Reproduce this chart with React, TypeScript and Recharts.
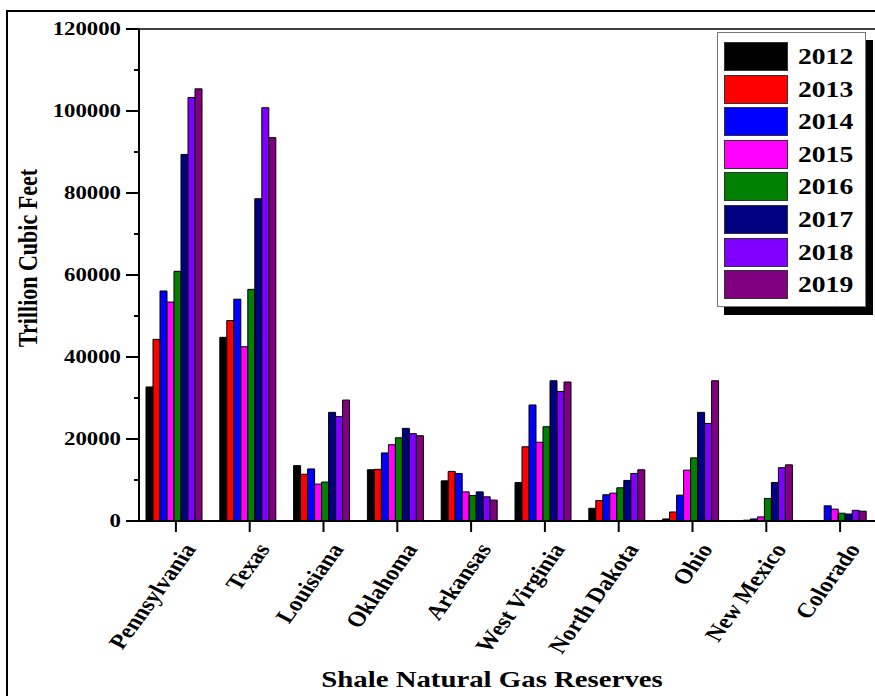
import { BarChart, Bar, XAxis, YAxis, ReferenceLine } from 'recharts';

const states = [
  'Pennsylvania',
  'Texas',
  'Louisiana',
  'Oklahoma',
  'Arkansas',
  'West Virginia',
  'North Dakota',
  'Ohio',
  'New Mexico',
  'Colorado',
];

const years = ['2012', '2013', '2014', '2015', '2016', '2017', '2018', '2019'];
const colors = ['#000000', '#ff0000', '#0000ff', '#ff00ff', '#008000', '#000080', '#8000ff', '#800080'];

const y2012 = [32700, 44800, 13500, 12500, 9800, 9400, 3100, 500, 100, 100];
const y2013 = [44300, 48900, 11400, 12600, 12100, 18100, 5000, 2200, 200, 100];
const y2014 = [56100, 54100, 12700, 16600, 11600, 28300, 6400, 6300, 500, 3700];
const y2015 = [53400, 42500, 9000, 18600, 7100, 19200, 6800, 12400, 1000, 2900];
const y2016 = [60900, 56500, 9500, 20300, 6200, 23000, 8100, 15400, 5500, 1900];
const y2017 = [89400, 78600, 26500, 22600, 7100, 34200, 9900, 26500, 9400, 1700];
const y2018 = [103300, 100800, 25500, 21300, 5900, 31600, 11600, 23800, 13000, 2600];
const y2019 = [105400, 93500, 29500, 20800, 5100, 33900, 12500, 34200, 13700, 2400];

const yTicks = [0, 10000, 20000, 30000, 40000, 50000, 60000, 70000, 80000, 90000, 100000, 110000, 120000];

const seriesValues = [y2012, y2013, y2014, y2015, y2016, y2017, y2018, y2019];

const data = states.map((state, i) => {
  const row: Record<string, string | number> = { state };
  years.forEach((yr, k) => {
    row[yr] = seriesValues[k][i];
  });
  return row;
});

const FONT = '"Liberation Serif", "Times New Roman", serif';

function YTick(props: any) {
  const { x, y, payload } = props;
  const major = payload.value % 20000 === 0;
  return (
    <g transform={`translate(${x},${y})`}>
      <line x1={major ? -13 : -5} x2={0} y1={0} y2={0} stroke="#000" strokeWidth={2} />
      {major && (
        <text
          transform="translate(-18,0) scale(1.2,1)"
          textAnchor="end"
          dominantBaseline="central"
          fontSize={19}
          fontWeight="bold"
          fontFamily={FONT}
          fill="#000"
        >
          {payload.value}
        </text>
      )}
    </g>
  );
}

function XTick(props: any) {
  const { x, y, payload } = props;
  return (
    <g transform={`translate(${x + 21},${y + 17}) scale(1.2,1) rotate(-58.5)`}>
      <text textAnchor="end" fontSize={21} fontWeight="bold" fontFamily={FONT} fill="#000">
        {payload.value}
      </text>
    </g>
  );
}

function LegendBox() {
  return (
    <div
      style={{
        position: 'absolute',
        left: 717,
        top: 32,
        width: 149,
        height: 275,
        boxSizing: 'border-box',
        border: '1px solid #777',
        background: '#fff',
        boxShadow: '7px 8px 0 #000',
        padding: '9px 0 0 6px',
      }}
    >
      {years.map((yr, k) => (
        <div key={yr} style={{ display: 'flex', alignItems: 'center', height: 29, marginBottom: 3.6 }}>
          <div
            style={{
              width: 64,
              height: 29,
              boxSizing: 'border-box',
              border: '1px solid #333',
              background: colors[k],
            }}
          />
          <div
            style={{
              marginLeft: 10,
              fontFamily: FONT,
              fontWeight: 'bold',
              fontSize: 23,
              lineHeight: 1,
              transform: 'scaleX(1.2)',
              transformOrigin: 'left center',
            }}
          >
            {yr}
          </div>
        </div>
      ))}
    </div>
  );
}

export default function App() {
  return (
    <div
      style={{
        position: 'fixed',
        left: 0,
        top: 0,
        width: 875,
        height: 696,
        overflow: 'hidden',
        background: '#fff',
      }}
    >
      <div
        style={{
          position: 'absolute',
          left: 6,
          top: 10,
          width: 900,
          height: 800,
          borderLeft: '2px solid #000',
          borderTop: '2px solid #000',
        }}
      />
      <div style={{ position: 'absolute', left: 0, top: 0 }}>
        <BarChart
          width={900}
          height={696}
          data={data}
          margin={{ top: 29, right: 23, bottom: 0, left: 0 }}
          barCategoryGap={7}
          barGap={0}
        >
          <XAxis
            dataKey="state"
            height={175}
            interval={0}
            tickSize={11}
            tickMargin={0}
            axisLine={{ stroke: '#000', strokeWidth: 2 }}
            tickLine={{ stroke: '#000', strokeWidth: 2 }}
            tick={<XTick />}
          />
          <YAxis
            width={139}
            domain={[0, 120000]}
            ticks={yTicks}
            interval={0}
            tickSize={0}
            tickMargin={0}
            tickLine={false}
            axisLine={{ stroke: '#000', strokeWidth: 2 }}
            tick={<YTick />}
          />
          <ReferenceLine y={120000} stroke="#000" strokeWidth={1.5} />
          {years.map((yr, k) => (
            <Bar
              key={yr}
              dataKey={yr}
              fill={colors[k]}
              stroke="#000"
              strokeWidth={1}
              isAnimationActive={false}
            />
          ))}
        </BarChart>
      </div>
      <div
        style={{
          position: 'absolute',
          left: 29,
          top: 258,
          transform: 'translate(-50%,-50%) scaleX(1.2) rotate(-90deg)',
          fontFamily: FONT,
          fontWeight: 'bold',
          fontSize: 22,
          lineHeight: 1,
          whiteSpace: 'nowrap',
        }}
      >
        Trillion Cubic Feet
      </div>
      <div
        style={{
          position: 'absolute',
          left: 492,
          top: 679,
          transform: 'translate(-50%,-50%) scaleX(1.2)',
          fontFamily: FONT,
          fontWeight: 'bold',
          fontSize: 24,
          lineHeight: 1,
          whiteSpace: 'nowrap',
        }}
      >
        Shale Natural Gas Reserves
      </div>
      <LegendBox />
    </div>
  );
}
